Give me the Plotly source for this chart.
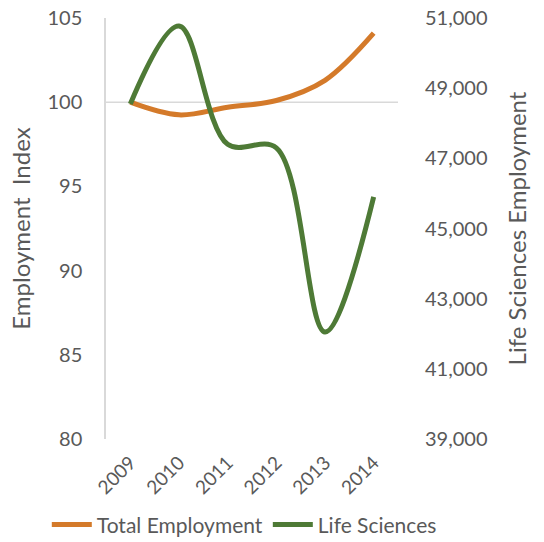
import plotly.graph_objects as go

years = ["2009", "2010", "2011", "2012", "2013", "2014"]
total_index = [100.0, 99.25, 99.7, 100.1, 101.3, 104.1]
life_sci = [48550, 50770, 47400, 47300, 42050, 45900]

FONT = "Lato, 'Open Sans', sans-serif"
GRAY = "#595959"

fig = go.Figure()
fig.add_trace(go.Scatter(x=years, y=total_index, name="Total Employment", mode="lines",
                         line=dict(color="#D47A2A", width=5, shape="spline", smoothing=1),
                         yaxis="y"))
fig.add_trace(go.Scatter(x=years, y=life_sci, name="Life Sciences", mode="lines",
                         line=dict(color="#4E7A36", width=5, shape="spline", smoothing=1),
                         yaxis="y2"))

fig.add_shape(type="line", xref="paper", yref="y", x0=0, x1=1, y0=100, y1=100,
              line=dict(color="#D9D9D9", width=1.5), layer="below")

fig.update_layout(
    width=544, height=542,
    margin=dict(l=106, r=146, t=18, b=103, autoexpand=False),
    paper_bgcolor="white", plot_bgcolor="white",
    font=dict(family=FONT, color=GRAY, size=20),
    showlegend=True,
    legend=dict(orientation="h", xref="paper", x=1.15, xanchor="right",
                yref="paper", y=-0.204, yanchor="middle",
                font=dict(size=21, color=GRAY), itemwidth=40, tracegroupgap=0),
    xaxis=dict(type="category", tickangle=-45, showgrid=False, showline=False,
               ticks="", tickfont=dict(size=19, color=GRAY), range=[-0.5, 5.5],
               automargin=False, ticklabelstandoff=8),
    yaxis=dict(range=[80, 105], dtick=5, showgrid=False, zeroline=False,
               showline=True, linecolor="#D9D9D9", linewidth=1.5,
               ticks="", automargin=False, ticklabelstandoff=18,
               title=dict(text="Employment  Index", font=dict(size=24, color=GRAY), standoff=10),
               tickfont=dict(size=20, color=GRAY)),
    yaxis2=dict(range=[39000, 51000], tick0=39000, dtick=2000, overlaying="y", side="right",
                showgrid=False, zeroline=False, showline=False, tickformat=",",
                ticks="", automargin=False, ticklabelstandoff=26,
                title=dict(text="Life Sciences Employment", font=dict(size=24, color=GRAY), standoff=22),
                tickfont=dict(size=20, color=GRAY)),
)

fig.write_html("out.html")
